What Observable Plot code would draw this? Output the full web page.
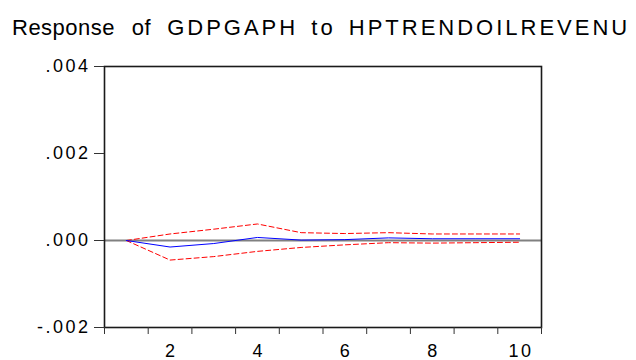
<!DOCTYPE html>
<html>
<head>
<meta charset="utf-8">
<script src="https://cdn.jsdelivr.net/npm/d3@7"></script>
<script src="https://cdn.jsdelivr.net/npm/@observablehq/plot@0.6"></script>
<style>
  body { margin: 0; background: #fff; }
  #wrap { position: relative; width: 636px; height: 360px; overflow: hidden; }
  #title { position: relative; height: 45px; font-family: "Liberation Sans", Arial, sans-serif; }
  #title .t { position: absolute; left: 12px; top: 17px; font-size: 22px; line-height: 22px; white-space: nowrap; color: #000; word-spacing: 10px; }
  #title .lo { letter-spacing: 0.5px; }
  #title .up { letter-spacing: 3px; word-spacing: 4px; }
  #chart svg { display: block; }
  #chart svg [aria-label="y-axis tick label"] { font-size: 18px; letter-spacing: 2.5px; }
  #chart svg [aria-label="x-axis tick label"] { font-size: 18px; letter-spacing: 2.5px; }
</style>
</head>
<body>
<div id="wrap">
  <div id="title"><div class="t"><span class="lo"></span> <span class="up"></span></div></div>
  <div id="chart"></div>
</div>
<script>
const titleText = "Response of GDPGAPH to HPTRENDOILREVENU";
const periods = [1, 2, 3, 4, 5, 6, 7, 8, 9, 10];
const response = [0, -0.00015, -0.00007, 0.00007, 0.00001, 0.00002, 0.00006, 0.00004, 0.00004, 0.00004];
const upperBand = [0, 0.00015, 0.00026, 0.00038, 0.00018, 0.00016, 0.00018, 0.00015, 0.00015, 0.00015];
const lowerBand = [0, -0.00045, -0.00037, -0.00025, -0.00016, -0.00010, -0.00005, -0.00006, -0.00005, -0.00004];
const yTicks = [-0.002, 0, 0.002, 0.004];
const xLabels = [2, 4, 6, 8, 10];

// title: first two words tighter, the rest wider-spaced (as in the reference)
const words = titleText.split(" ");
document.querySelector("#title .lo").textContent = words.slice(0, 2).join(" ");
document.querySelector("#title .up").textContent = words.slice(2).join(" ");

const rows = periods.map((p, i) => ({p, r: response[i], u: upperBand[i], l: lowerBand[i]}));
const xDomain = [periods[0] - 0.5, periods[periods.length - 1] + 0.5];
const xBoundaries = periods.map(p => p - 0.5).concat([periods[periods.length - 1] + 0.5]);
const locale = d3.formatLocale({decimal: ".", thousands: ",", grouping: [3], currency: ["", ""], minus: "-"});
const fmt = v => locale.format(".3f")(v).replace(/^(-?)0\./, "$1.");

const chart = Plot.plot({
  width: 636,
  height: 315,
  marginTop: 21,
  marginBottom: 33,
  marginLeft: 104,
  marginRight: 95,
  style: {fontFamily: "'Liberation Sans', Arial, sans-serif", background: "#fff", color: "#000"},
  x: {domain: xDomain},
  y: {domain: [yTicks[0], yTicks[yTicks.length - 1]]},
  marks: [
    Plot.ruleY([0], {stroke: "#808080", strokeWidth: 2}),
    Plot.line(rows, {x: "p", y: "u", stroke: "#ff0000", strokeWidth: 1, strokeDasharray: "5,3"}),
    Plot.line(rows, {x: "p", y: "l", stroke: "#ff0000", strokeWidth: 1, strokeDasharray: "5,3"}),
    Plot.line(rows, {x: "p", y: "r", stroke: "#0000ff", strokeWidth: 1}),
    Plot.frame({stroke: "#1a1a1a", strokeWidth: 1.6}),
    Plot.axisY({ticks: yTicks, tickFormat: fmt, tickSize: 10, tickPadding: 4, stroke: "#333", strokeOpacity: 1, label: null}),
    Plot.axisX({ticks: xBoundaries, tickFormat: () => "", tickSize: 7, stroke: "#333", strokeOpacity: 1, label: null}),
    Plot.axisX({ticks: xLabels, tickFormat: d => String(d), tickSize: 0, tickPadding: 17, label: null, dx: 1.25})
  ]
});
document.getElementById("chart").appendChild(chart);
</script>
</body>
</html>
